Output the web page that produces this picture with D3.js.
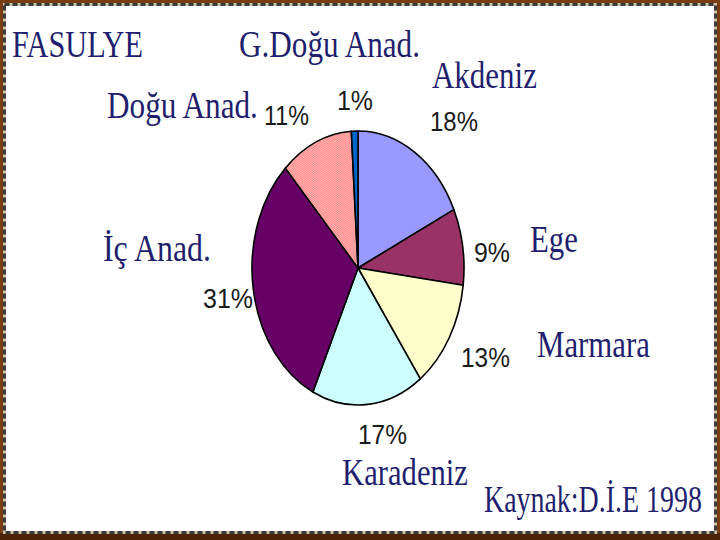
<!DOCTYPE html>
<html><head><meta charset="utf-8">
<script src="https://cdn.jsdelivr.net/npm/d3@7"></script>
<style>html,body{margin:0;padding:0;background:#fff;}svg{display:block;}</style>
</head><body>
<svg id="c" width="720" height="540"></svg>
<script>
// ---- data ----
const regions = ["Akdeniz", "Ege", "Marmara", "Karadeniz", "İç Anad.", "Doğu Anad.", "G.Doğu Anad."];
const values = [18, 9, 13, 17, 31, 11, 1];
const pctLabels = ["18%", "9%", "13%", "17%", "31%", "11%", "1%"];
const title = "FASULYE";
const source = "Kaynak:D.İ.E 1998";

// ---- styles / layout ----
const colors = ["#9999FF", "#993366", "#FFFFCC", "#CCFFFF", "#660066", "url(#chk)", "#0066CC"];
const cx = 358, cy = 268, rx = 106, ry = 137;
// [x, baseline, width]
const regionPos = [[432, 88, 105], [530, 252, 48], [537, 357, 113], [342, 485, 126], [103, 261, 108], [107, 118, 151], [239, 57, 181]];
const pctPos = [[430, 131, 48], [474, 262, 36], [461, 367, 49], [358, 444, 49], [203, 308, 50], [264, 125, 45], [337, 110, 36]];

const svg = d3.select("#c");
const defs = svg.append("defs");
const pat = defs.append("pattern").attr("id", "chk").attr("width", 2).attr("height", 2).attr("patternUnits", "userSpaceOnUse");
pat.append("rect").attr("width", 2).attr("height", 2).attr("fill", "#FF8A8A");
pat.append("rect").attr("width", 1).attr("height", 1).attr("fill", "#FFB3B3");
pat.append("rect").attr("x", 1).attr("y", 1).attr("width", 1).attr("height", 1).attr("fill", "#FFB3B3");

// frame
svg.append("rect").attr("width", 720).attr("height", 540).attr("fill", "#7a3c12");
svg.append("rect").attr("x", 0).attr("y", 533).attr("width", 720).attr("height", 7).attr("fill", "#4a2208");
svg.append("rect").attr("x", 4.5).attr("y", 4.5).attr("width", 711).attr("height", 528)
  .attr("fill", "none").attr("stroke", "#cfc2a8").attr("stroke-width", 3);
svg.append("rect").attr("x", 4.5).attr("y", 4.5).attr("width", 711).attr("height", 528)
  .attr("fill", "none").attr("stroke", "#3a3a3a").attr("stroke-width", 3).attr("stroke-dasharray", "5,3");
svg.append("rect").attr("x", 6).attr("y", 6).attr("width", 708).attr("height", 525).attr("fill", "#fff");

// pie
const pie = d3.pie().sort(null).value(d => d)(values);
const arc = d3.arc().innerRadius(0).outerRadius(ry);
svg.append("g").attr("transform", `translate(${cx},${cy}) scale(${rx / ry},1)`)
  .selectAll("path").data(pie).join("path")
  .attr("d", arc)
  .attr("fill", (d, i) => colors[i])
  .attr("stroke", "#000").attr("stroke-width", 1.6)
  .attr("vector-effect", "non-scaling-stroke")
  .attr("stroke-linejoin", "round");

function txt(s, p, font, size, fill) {
  const t = svg.append("text").attr("x", 0).attr("y", 0)
    .attr("font-family", font).attr("font-size", size).attr("fill", fill).text(s);
  const w0 = t.node().getComputedTextLength();
  t.attr("transform", `translate(${p[0]},${p[1]}) scale(${p[2] / w0},1)`);
}
const serif = "'Liberation Serif','Times New Roman',serif";
const sans = "'Liberation Sans',Arial,sans-serif";
const navy = "#1f1f6e";
txt(title, [12, 57, 131], serif, 38, navy);
txt(source, [484, 512, 218], serif, 38, navy);
regions.forEach((r, i) => txt(r, regionPos[i], serif, 38, navy));
pctLabels.forEach((p, i) => txt(p, pctPos[i], sans, 28, "#1a1a1a"));
</script>
</body></html>
